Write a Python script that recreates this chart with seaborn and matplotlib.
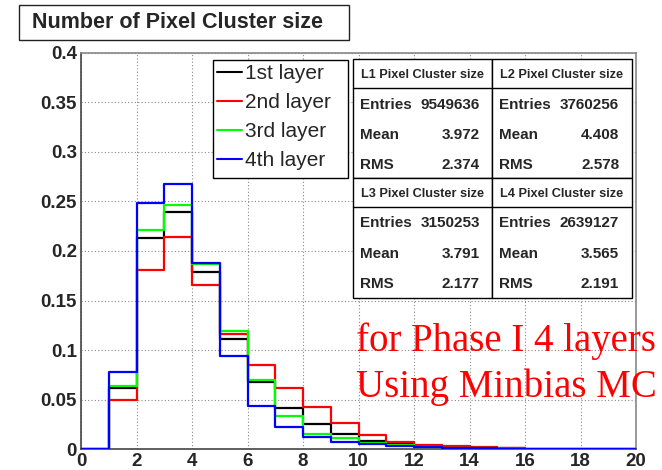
import numpy as np
import pandas as pd
import seaborn as sns
from matplotlib import pyplot as plt
from matplotlib.patches import Rectangle
from matplotlib.lines import Line2D
from matplotlib.ticker import MultipleLocator

# cluster size bins (left edges), normalised fraction per layer
size_bins = list(range(20))
layer1 = [0, 0.0615, 0.213, 0.2395, 0.1787, 0.111, 0.068, 0.0413, 0.0255, 0.0154,
          0.0087, 0.005, 0.0035, 0.0022, 0.0015, 0.001, 0.0006, 0.0004, 0.0003, 0.0002]
layer2 = [0, 0.0497, 0.181, 0.214, 0.1656, 0.116, 0.085, 0.0615, 0.0426, 0.027,
          0.0144, 0.007, 0.0045, 0.003, 0.0022, 0.0012, 0.0008, 0.0005, 0.0004, 0.0003]
layer3 = [0, 0.0635, 0.221, 0.2466, 0.1865, 0.1196, 0.0699, 0.0336, 0.0154, 0.011,
          0.0065, 0.004, 0.0025, 0.0017, 0.0012, 0.0008, 0.0005, 0.0004, 0.0003, 0.0002]
layer4 = [0, 0.078, 0.2486, 0.267, 0.1875, 0.0944, 0.0437, 0.0222, 0.012, 0.0077,
          0.0053, 0.0037, 0.0025, 0.0018, 0.0012, 0.0008, 0.0005, 0.0004, 0.0003, 0.0002]

layer_names = ["1st layer", "2nd layer", "3rd layer", "4th layer"]
layer_colors = ["black", "#ff0000", "#00ff00", "#0000ff"]

# stat boxes
stat_titles = ["L1 Pixel Cluster size", "L2 Pixel Cluster size",
               "L3 Pixel Cluster size", "L4 Pixel Cluster size"]
stat_entries = ["9549636", "3760256", "3150253", "2639127"]
stat_means = ["3.972", "4.408", "3.791", "3.565"]
stat_rms = ["2.374", "2.578", "2.177", "2.191"]

sns.set_style("white")
plt.rcParams["font.family"] = ["Liberation Sans", "DejaVu Sans"]

W, H = 662, 470
fig = plt.figure(figsize=(W / 100, H / 100), dpi=100)


def fx(x):
    return x / W


def fy(y):
    return 1 - y / H


ax = fig.add_axes([fx(81), fy(449.3), fx(636) - fx(81), fy(52.5) - fy(449.3)])

df = pd.DataFrame({"size": [s + 0.5 for s in size_bins] * 4,
                   "frac": layer1 + layer2 + layer3 + layer4,
                   "layer": sum([[n] * 20 for n in layer_names], [])})

for name, col in zip(layer_names, layer_colors):
    sub = df[df["layer"] == name]
    sns.histplot(x=sub["size"], weights=sub["frac"], bins=20, binrange=(0, 20),
                 element="step", fill=False, color=col, linewidth=1.6, ax=ax,
                 zorder=3)

ax.set_xlim(0, 20)
ax.set_ylim(0, 0.4)
ax.set_xlabel("")
ax.set_ylabel("")
ax.xaxis.set_major_locator(MultipleLocator(2))
ax.xaxis.set_minor_locator(MultipleLocator(0.5))
ax.yaxis.set_minor_locator(MultipleLocator(0.01))
ax.set_yticks(np.arange(0, 0.401, 0.05))
ax.set_yticklabels(["0", "0.05", "0.1", "0.15", "0.2", "0.25", "0.3", "0.35", "0.4"])
ax.tick_params(which="major", direction="in", length=10, width=1, color="#333333",
               labelsize=13.5, pad=3)
ax.tick_params(which="minor", direction="in", length=5, width=1, color="#333333")
for lab in ax.get_xticklabels() + ax.get_yticklabels():
    lab.set_fontweight("bold")
ax.grid(True, which="major", ls=(0, (1, 2)), color="#888888", lw=0.8)
for s in ["left", "bottom"]:
    ax.spines[s].set_color("#444444")
for s in ["top", "right"]:
    ax.spines[s].set_color("#888888")
for s in ax.spines.values():
    s.set_linewidth(1.2)

# legend (box drawn separately to get the wide ROOT frame)
ax.add_patch(Rectangle((fx(212.5), fy(177.5)), fx(347.5) - fx(212.5), fy(60) - fy(177.5),
                       transform=fig.transFigure, fc="white", ec="black", lw=1,
                       zorder=4, clip_on=False))
handles = [Line2D([], [], color=c, lw=1.5) for c in layer_colors]
leg = ax.legend(handles, layer_names, loc="upper left",
                bbox_to_anchor=(fx(212.5), fy(60)), bbox_transform=fig.transFigure,
                fontsize=15, frameon=False, handlelength=1.2, handletextpad=0.15,
                labelspacing=0.475, borderpad=0.2, borderaxespad=0)

# title box
fig.add_artist(Rectangle((fx(19), fy(40)), fx(349) - fx(19), fy(5) - fy(40),
                         transform=fig.transFigure, fill=False, ec="#222222", lw=1))
fig.text(fx(32), fy(22.5), "Number of Pixel Cluster size", fontsize=15.5,
         fontweight="bold", va="center", ha="left")

# statistics boxes (2 x 2)
col_x = [352.7, 492.3, 631.7]
row_y = [(59.3, 88.3, 178.3), (178.3, 206.7, 297.7)]
for i in range(4):
    x0, x1 = col_x[i % 2], col_x[i % 2 + 1]
    top, sep, bot = row_y[i // 2]
    fig.add_artist(Rectangle((fx(x0), fy(bot)), fx(x1) - fx(x0), fy(top) - fy(bot),
                             transform=fig.transFigure, fill=True, fc="white",
                             ec="black", lw=1))
    fig.add_artist(Line2D([fx(x0), fx(x1)], [fy(sep), fy(sep)],
                          transform=fig.transFigure, color="black", lw=1))
    fig.text(fx((x0 + x1) / 2), fy((top + sep) / 2 + 1.5), stat_titles[i],
             fontsize=9.2, fontweight="bold", ha="center", va="center")
    row_h = (bot - sep) / 3
    labels = ["Entries", "Mean", "RMS"]
    vals = [stat_entries[i], stat_means[i], stat_rms[i]]
    for k in range(3):
        yc = sep + row_h * (k + 0.5) + 1.5
        fig.text(fx(x0 + 7), fy(yc), labels[k], fontsize=11, fontweight="bold",
                 ha="left", va="center")
        fig.text(fx(x1 - 12.5), fy(yc), vals[k], fontsize=11, fontweight="bold",
                 ha="right", va="center")

# annotation
fig.text(fx(356), fy(350.7), "for Phase I 4 layers", color="#ff0000",
         fontsize=28, family="Liberation Serif", va="baseline", ha="left")
fig.text(fx(356), fy(397.3), "Using Minbias MC", color="#ff0000",
         fontsize=28, family="Liberation Serif", va="baseline", ha="left")

fig.savefig("out.png", dpi=100)
